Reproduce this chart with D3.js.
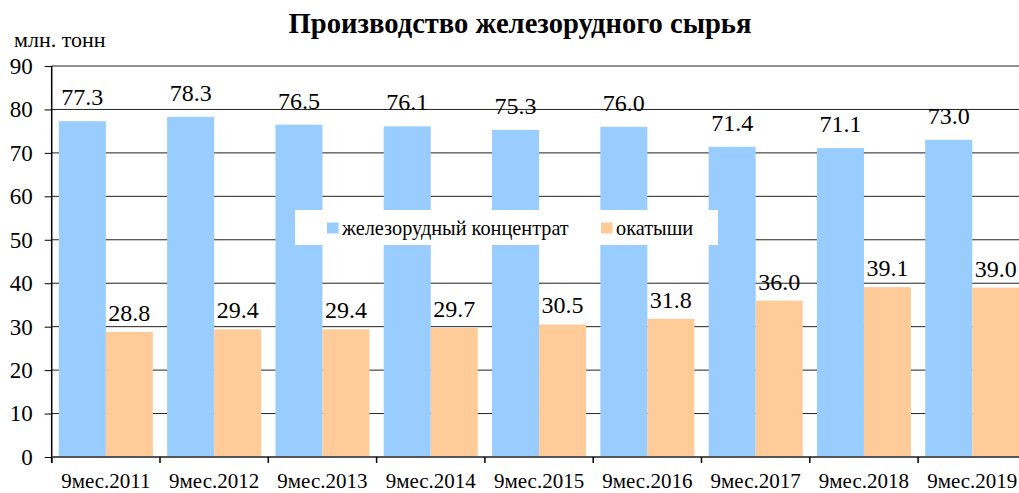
<!DOCTYPE html>
<html>
<head>
<meta charset="utf-8">
<script src="https://cdn.jsdelivr.net/npm/d3@7/dist/d3.min.js"></script>
<style>
  body { margin: 0; background: #fff; }
  svg { display: block; }
  text { font-family: "Liberation Serif", "Times New Roman", serif; }
</style>
</head>
<body>
<svg id="chart"></svg>
<script>
const w = 1019;
const h = 493;

const periods = ["9мес.2011", "9мес.2012", "9мес.2013", "9мес.2014", "9мес.2015",
                 "9мес.2016", "9мес.2017", "9мес.2018", "9мес.2019"];
const concentrate = [77.3, 78.3, 76.5, 76.1, 75.3, 76.0, 71.4, 71.1, 73.0];
const pellets = [28.8, 29.4, 29.4, 29.7, 30.5, 31.8, 36.0, 39.1, 39.0];
const seriesNames = ["железорудный концентрат", "окатыши"];
const yTicks = [0, 10, 20, 30, 40, 50, 60, 70, 80, 90];

const colors = ["#99ccff", "#ffcc99"];
const serif = "Liberation Serif";

const svg = d3.select("#chart")
  .attr("width", w)
  .attr("height", h)
  .attr("viewBox", [0, 0, w, h])
  .attr("font-family", serif);

const plotL = 51.7, plotR = 1026.4, plotT = 66, plotB = 457;

const x = d3.scaleBand()
  .domain(periods)
  .range([plotL, plotR])
  .paddingInner(0.132)
  .paddingOuter(0.066);

const xs = d3.scaleBand()
  .domain([0, 1])
  .range([0, x.bandwidth()]);

const y = d3.scaleLinear()
  .domain([0, 90])
  .range([plotB, plotT]);

const rows = periods.map((p, i) => ({ period: p, values: [concentrate[i], pellets[i]] }));

// grid
svg.append("g")
  .selectAll("line")
  .data(yTicks.filter(d => d > 0))
  .enter()
  .append("line")
  .attr("x1", plotL)
  .attr("x2", w)
  .attr("y1", d => y(d))
  .attr("y2", d => y(d))
  .attr("stroke", "#222")
  .attr("stroke-width", 1);

// bars
const groups = svg.append("g")
  .selectAll("g")
  .data(rows)
  .enter()
  .append("g")
  .attr("transform", d => `translate(${x(d.period)},0)`);

groups.selectAll("rect")
  .data(d => d.values.map((v, k) => ({ v, k })))
  .enter()
  .append("rect")
  .attr("x", d => xs(d.k))
  .attr("y", d => y(d.v))
  .attr("width", xs.bandwidth())
  .attr("height", d => plotB - y(d.v))
  .attr("fill", d => colors[d.k]);

// value labels
const lift = [16, 11];
groups.selectAll("text")
  .data(d => d.values.map((v, k) => ({ v, k })))
  .enter()
  .append("text")
  .attr("x", d => xs(d.k) + xs.bandwidth() / 2)
  .attr("y", d => y(d.v) - lift[d.k])
  .attr("text-anchor", "middle")
  .attr("font-family", serif)
  .attr("font-size", 24)
  .attr("fill", "#000")
  .text(d => d3.format(".1f")(d.v));

// y axis
const yAxis = d3.axisLeft(y)
  .tickValues(yTicks)
  .tickSize(7)
  .tickPadding(12)
  .tickFormat(d3.format("d"));

const yg = svg.append("g")
  .attr("transform", `translate(${plotL},0)`)
  .call(yAxis)
  .attr("font-family", serif)
  .attr("font-size", 23);
yg.select(".domain").remove();
yg.selectAll("line").attr("stroke", "#000");
yg.selectAll("text").attr("fill", "#000");

svg.append("line")
  .attr("x1", plotL).attr("x2", plotL)
  .attr("y1", plotT).attr("y2", plotB + 6)
  .attr("stroke", "#000")
  .attr("stroke-width", 1.5);

// x axis
svg.append("line")
  .attr("x1", plotL).attr("x2", w)
  .attr("y1", plotB).attr("y2", plotB)
  .attr("stroke", "#555")
  .attr("stroke-width", 2);

const step = x.step();
svg.append("g")
  .selectAll("line")
  .data(periods)
  .enter()
  .append("line")
  .attr("x1", d => x(d) - step * x.paddingInner() / 2)
  .attr("x2", d => x(d) - step * x.paddingInner() / 2)
  .attr("y1", plotB)
  .attr("y2", plotB + 6)
  .attr("stroke", "#000")
  .attr("stroke-width", 1.5);

svg.append("g")
  .selectAll("text")
  .data(periods)
  .enter()
  .append("text")
  .attr("x", d => x(d) + x.bandwidth() / 2)
  .attr("y", 488)
  .attr("text-anchor", "middle")
  .attr("font-family", serif)
  .attr("font-size", 21)
  .text(d => d);

// legend
const legend = svg.append("g");
legend.append("rect")
  .attr("x", 295).attr("y", 210)
  .attr("width", 423).attr("height", 35)
  .attr("fill", "#fff");

const legendX = [327, 601];
seriesNames.forEach((name, k) => {
  legend.append("rect")
    .attr("x", legendX[k]).attr("y", 222.5)
    .attr("width", 11.5).attr("height", 11)
    .attr("fill", colors[k]);
  legend.append("text")
    .attr("x", legendX[k] + 15)
    .attr("y", 235)
    .attr("font-family", serif)
    .attr("font-size", 20.3)
    .text(name);
});

// titles
svg.append("text")
  .attr("x", 520)
  .attr("y", 33.3)
  .attr("text-anchor", "middle")
  .attr("font-family", serif)
  .attr("font-size", 28.6)
  .attr("font-weight", "bold")
  .text("Производство железорудного сырья");

svg.append("text")
  .attr("x", 14)
  .attr("y", 46.5)
  .attr("font-family", serif)
  .attr("font-size", 22)
  .text("млн. тонн");
</script>
</body>
</html>
